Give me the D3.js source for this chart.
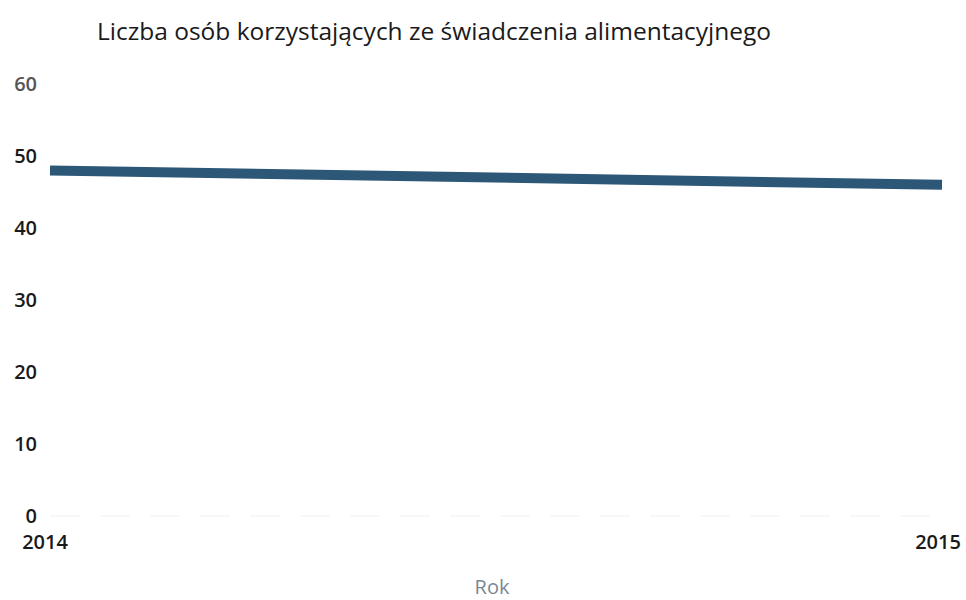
<!DOCTYPE html>
<html>
<head>
<meta charset="utf-8">
<script src="https://cdn.jsdelivr.net/npm/d3@7"></script>
<style>
  body { margin: 0; background: #fff; }
  svg, svg text { font-family: "Open Sans", "DejaVu Sans", sans-serif; }
</style>
</head>
<body>
<svg width="966" height="600"></svg>
<script>
// data
var years = ["2014", "2015"];
var values = [48, 46];
var yTicks = [0, 10, 20, 30, 40, 50, 60];

var svg = d3.select("svg"),
    margin = { top: 84, right: 24, bottom: 84, left: 50 },
    width = +svg.attr("width"),
    height = +svg.attr("height");

var x = d3.scalePoint()
    .domain(years)
    .range([margin.left, width - margin.right]);

var y = d3.scaleLinear()
    .domain([0, 60])
    .range([height - margin.bottom, margin.top]);

// title
svg.append("text")
    .attr("x", 97)
    .attr("y", 40)
    .attr("font-size", 24.5)
    .attr("font-weight", 500)
    .attr("fill", "#1a1a1a")
    .text("Liczba osób korzystających ze świadczenia alimentacyjnego");

// faint baseline
svg.append("line")
    .attr("x1", margin.left)
    .attr("x2", width - margin.right)
    .attr("y1", y(0))
    .attr("y2", y(0))
    .attr("stroke", "#f0f0f0")
    .attr("stroke-dasharray", "30,20");

// y labels
var yAxis = svg.append("g")
    .attr("class", "y axis")
    .attr("transform", "translate(37,0)")
    .call(d3.axisLeft(y).tickValues(yTicks).tickSize(0).tickPadding(0));
yAxis.select(".domain").remove();
yAxis.attr("font-family", null).attr("font-size", null);
yAxis.selectAll("text")
    .attr("text-anchor", "end")
    .attr("font-size", 20)
    .attr("font-weight", 600)
    .attr("fill", function(d) { return d == 60 ? "#555" : "#1a1a1a"; });

// x labels
var xAxis = svg.append("g")
    .attr("class", "x axis")
    .attr("transform", "translate(0," + (y(0) + 19) + ")")
    .call(d3.axisBottom(x).tickSize(0).tickPadding(0));
xAxis.select(".domain").remove();
xAxis.attr("font-family", null).attr("font-size", null);
xAxis.selectAll("text")
    .attr("font-size", 20)
    .attr("font-weight", 600)
    .attr("fill", "#1a1a1a");
xAxis.selectAll(".tick").attr("transform", function(d, i) {
    return "translate(" + (i == 0 ? x(d) - 5 : x(d) - 4) + ",0)";
});

svg.append("text")
    .attr("x", 492)
    .attr("y", 594)
    .attr("text-anchor", "middle")
    .attr("font-size", 20)
    .attr("fill", "#7a8896")
    .text("Rok");

// line
var line = d3.line()
    .x(function(d, i) { return x(years[i]); })
    .y(function(d) { return y(d); });

svg.append("path")
    .datum(values)
    .attr("fill", "none")
    .attr("stroke", "#2c5777")
    .attr("stroke-width", 10)
    .attr("d", line);
</script>
</body>
</html>
